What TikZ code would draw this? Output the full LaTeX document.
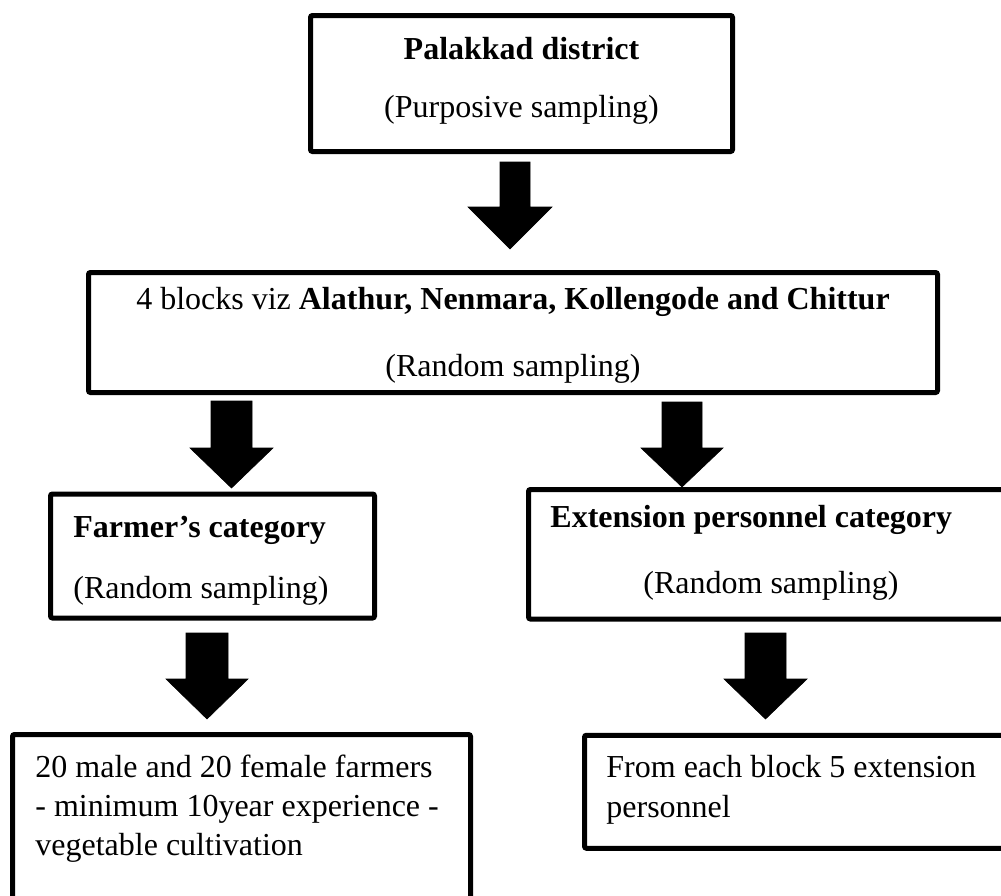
\documentclass[tikz,border=0pt]{standalone}
\usepackage{fontspec}
\setmainfont{Liberation Serif}
\begin{document}
\begin{tikzpicture}[x=0.5pt,y=-0.5pt,
  box/.style={draw=black,line width=2.5pt,rounded corners=1pt,rectangle,inner sep=0pt},
  txt/.style={inner sep=0pt,font=\fontsize{16}{19}\selectfont},
  blk/.style={fill=black,draw=black,line width=0.3pt}]
\clip (0,0) rectangle (1001,895);
\fill[white] (0,0) rectangle (1001,895);
% boxes
\node[box,minimum width=211pt,minimum height=68pt] (b1) at (521.5,83.5) {};
\node[box,minimum width=424.5pt,minimum height=60pt] (b2) at (513,332.5) {};
\node[box,minimum width=162pt,minimum height=62pt] (b3l) at (212.5,556) {};
\node[box,minimum width=240.75pt,minimum height=64.75pt] (b3r) at (769.25,554.25) {};
\node[box,minimum width=229pt,minimum height=85.25pt] (b4l) at (241.5,819.75) {};
\node[box,minimum width=212.75pt,minimum height=56.5pt] (b4r) at (797.25,791.75) {};
% texts
\node[txt,anchor=base] (t1a) at (521.5,59) {\bfseries Palakkad district};
\node[txt,anchor=base] (t1b) at (521.5,117) {(Purposive sampling)};
\node[txt,anchor=base] (t2a) at (513,309) {4 blocks viz \textbf{Alathur, Nenmara, Kollengode and Chittur}};
\node[txt,anchor=base] (t2b) at (513,376) {(Random sampling)};
\node[txt,anchor=base west] (t3la) at (73,537) {\bfseries Farmer’s category};
\node[txt,anchor=base west] (t3lb) at (73,598) {(Random sampling)};
\node[txt,anchor=base west] (t3ra) at (550,527) {\bfseries Extension personnel category};
\node[txt,anchor=base west] (t3rb) at (643,593) {(Random sampling)};
\node[txt,anchor=base west] (t4la) at (35,777) {20 male and 20 female farmers};
\node[txt,anchor=base west] (t4lb) at (35,816) {- minimum 10year experience -};
\node[txt,anchor=base west] (t4lc) at (35,855) {vegetable cultivation};
\node[txt,anchor=base west] (t4ra) at (606,777) {From each block 5 extension};
\node[txt,anchor=base west] (t4rb) at (606,817) {personnel};
% block arrows
\filldraw[blk] (500,162) -- (530,162) -- (530,207) -- (552,207) -- (510,249) -- (468,207) -- (500,207) -- cycle;
\filldraw[blk] (211,401) -- (252,401) -- (252,448) -- (273,448) -- (231.5,488) -- (190,448) -- (211,448) -- cycle;
\filldraw[blk] (662,402) -- (702,402) -- (702,448) -- (723,448) -- (682,487) -- (641,448) -- (662,448) -- cycle;
\filldraw[blk] (186,633) -- (228,633) -- (228,679) -- (248,679) -- (207,719) -- (166,679) -- (186,679) -- cycle;
\filldraw[blk] (745,633) -- (786,633) -- (786,679) -- (807,679) -- (765.5,719) -- (724,679) -- (745,679) -- cycle;
\end{tikzpicture}
\end{document}
